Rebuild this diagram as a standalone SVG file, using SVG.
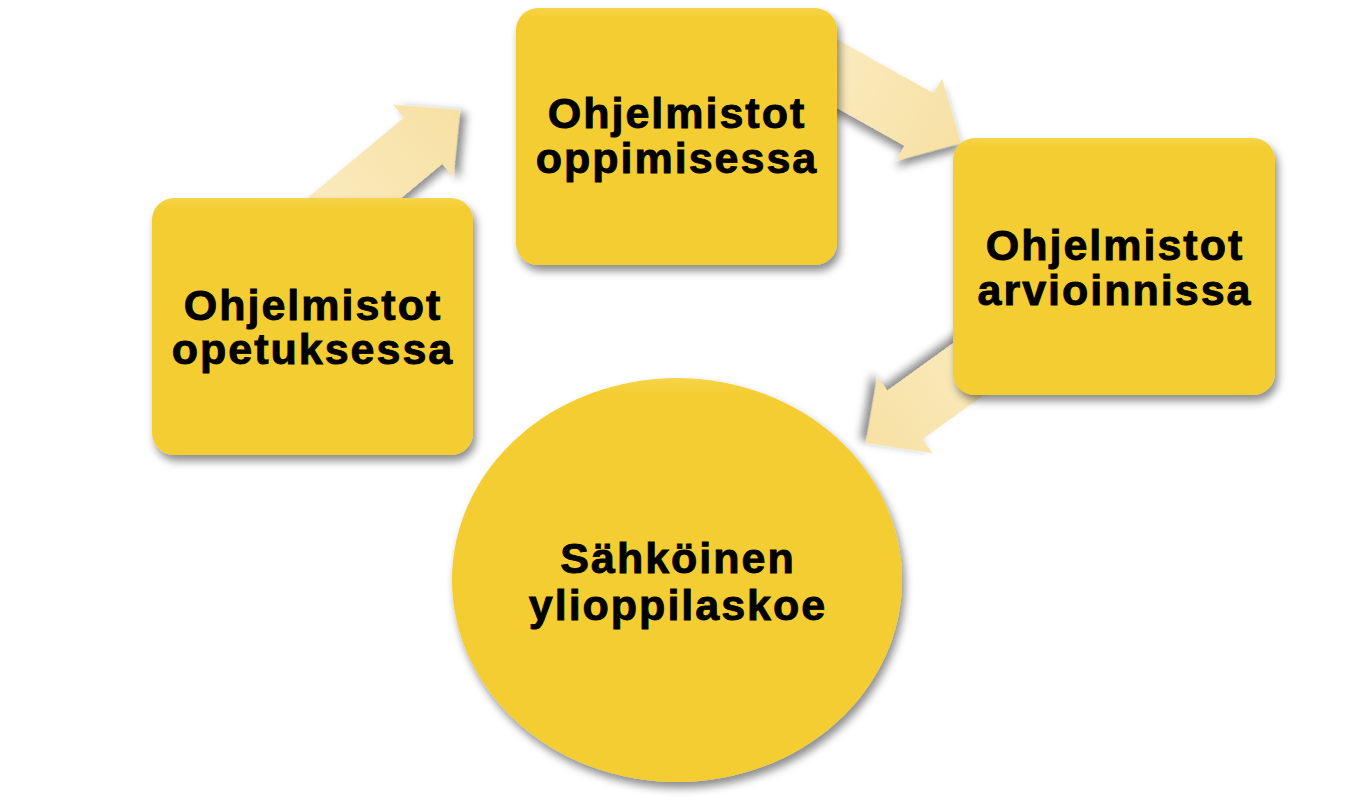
<svg xmlns="http://www.w3.org/2000/svg" width="1352" height="811" viewBox="0 0 1352 811">
  <defs>
    <filter id="shadow" x="-20%" y="-20%" width="140%" height="140%">
      <feDropShadow dx="3" dy="6" stdDeviation="4" flood-color="#000" flood-opacity="0.45"/>
    </filter>
    <linearGradient id="arrowGrad" x1="0" y1="0" x2="1" y2="0">
      <stop offset="0" stop-color="#FAEBC0"/>
      <stop offset="1" stop-color="#F7E0A3"/>
    </linearGradient>
    <linearGradient id="boxGrad" x1="0" y1="0" x2="0" y2="1">
      <stop offset="0" stop-color="#F6D44A"/>
      <stop offset="0.04" stop-color="#F4CD31"/>
      <stop offset="1" stop-color="#F4CD31"/>
    </linearGradient>
  </defs>
  <style>
    .node { fill: url(#boxGrad); filter: url(#shadow); }
    .arrow { fill: url(#arrowGrad); filter: url(#shadow); }
    .label { font-family: "Liberation Sans", Arial, sans-serif; font-weight: bold; font-size: 43px; letter-spacing: 2px; text-anchor: middle; fill: #000; stroke: #000; stroke-width: 0.9px; }
  </style>
  <rect width="1352" height="811" fill="#FFFFFF"/>
  <g id="connectors">
    <polygon class="arrow" transform="translate(460,110) rotate(-39.8)" points="0,0 -48,-47 -48,-30 -190,-30 -190,30 -48,30 -48,47"/>
    <polygon class="arrow" transform="translate(961,143) rotate(29.2)" points="0,0 -48,-47 -48,-30 -170,-30 -170,30 -48,30 -48,47"/>
    <polygon class="arrow" transform="translate(866,443) rotate(144.2)" points="0,0 -48,-47 -48,-30 -160,-30 -160,30 -48,30 -48,47"/>
  </g>
  <g id="node-opetuksessa">
    <rect class="node" x="152" y="198" width="321" height="257" rx="22" ry="22"/>
    <text class="label"><tspan x="313" y="320">Ohjelmistot</tspan><tspan x="313" y="364">opetuksessa</tspan></text>
  </g>
  <g id="node-oppimisessa">
    <rect class="node" x="516" y="8" width="321" height="257" rx="22" ry="22"/>
    <text class="label"><tspan x="677" y="128">Ohjelmistot</tspan><tspan x="677" y="173">oppimisessa</tspan></text>
  </g>
  <g id="node-arvioinnissa">
    <rect class="node" x="953" y="138" width="322" height="257" rx="22" ry="22"/>
    <text class="label"><tspan x="1115" y="260">Ohjelmistot</tspan><tspan x="1115" y="305">arvioinnissa</tspan></text>
  </g>
  <g id="node-ylioppilaskoe">
    <ellipse class="node" cx="677" cy="580" rx="225" ry="202"/>
    <text class="label"><tspan x="678" y="573">Sähköinen</tspan><tspan x="678" y="620">ylioppilaskoe</tspan></text>
  </g>
</svg>
